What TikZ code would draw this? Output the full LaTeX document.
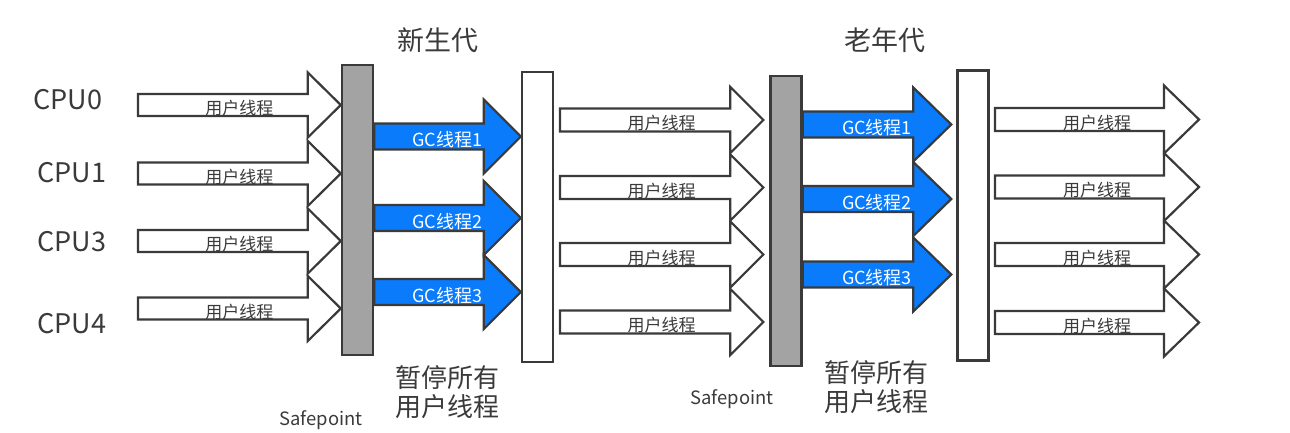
\documentclass[tikz,border=0pt]{standalone}
\usepackage{fontspec}
\setmainfont{Noto Sans CJK SC}
\usetikzlibrary{calc,positioning}

\definecolor{inkgray}{HTML}{3A3A3A}
\definecolor{bargray}{HTML}{A3A3A3}
\definecolor{gcblue}{HTML}{0A7BFB}

% block arrow: #1 path style, #2 label style, #3 start, #4 tip, #5 text
\newcommand{\blkarrow}[5]{%
  \draw[#1] ($(#3)+(0,-\shaftH)$) -| ($(#4)+(-\headL,-\headH)$) -- (#4)
    -- ($(#4)+(-\headL,\headH)$) |- ($(#3)+(0,\shaftH)$) -- cycle;
  \node[#2] (#3-txt) at ($(#3)!0.5!(#4)$) {#5};
}

\begin{document}
\begin{tikzpicture}[
    x=0.5pt, y=-0.5pt,
    every node/.style={text=inkgray},
    graybar/.style={draw=inkgray, fill=bargray, line width=1.2pt,
                    minimum width=15.5pt, minimum height=145pt, inner sep=0pt},
    whitebar/.style={graybar, fill=white},
    uarrow/.style={draw=inkgray, fill=white, line width=1.1pt},
    garrow/.style={draw=inkgray, fill=gcblue, line width=1.1pt},
    ulabel/.style={font=\fontsize{8.5}{10}\selectfont, yshift=-1.6pt, inner sep=0pt},
    glabel/.style={ulabel, text=white, font=\fontsize{9}{10}\selectfont},
    cpulbl/.style={font=\fontsize{13.5}{15}\selectfont},
    gentitle/.style={font=\fontsize{13.5}{15}\selectfont},
    pausetxt/.style={font=\fontsize{13}{14.5}\selectfont, align=center},
    safept/.style={font=\fontsize{9.2}{10}\selectfont},
]
\useasboundingbox (0,0) rectangle (1290,433);

% ── bars ─────────────────────────────────────────────────────
\node[graybar]  (gray1)  at (357.5,210) {};
\node[whitebar] (white1) at (537.5,217) {};
\node[graybar]  (gray2)  at (786,221)   {};
\node[whitebar] (white2) at (973,215.5) {};

% ── titles ───────────────────────────────────────────────────
\node[gentitle] (young) at (438,40) {新生代};
\node[gentitle] (old)   at (885,40) {老年代};

% ── CPU labels ───────────────────────────────────────────────
\node[cpulbl] (cpu0) at (68,100) {CPU0};
\node[cpulbl] (cpu1) at (72,173) {CPU1};
\node[cpulbl] (cpu3) at (72,242) {CPU3};
\node[cpulbl] (cpu4) at (72,324) {CPU4};

% ── user threads, before young GC ───────────────────────────
\def\shaftH{11}\def\headH{32.5}\def\headL{33}
\foreach \n/\y in {0/105,1/173.5,3/241,4/308.5}{
  \coordinate (ua\n) at (138,\y);
  \coordinate (ub\n) at (gray1.west |- ua\n);
  \blkarrow{uarrow}{ulabel}{ua\n}{ub\n}{用户线程}
}

% ── young GC threads ─────────────────────────────────────────
\def\shaftH{13}\def\headH{37}\def\headL{37}
\foreach \n/\y in {1/136.5,2/218,3/292}{
  \coordinate (ga\n) at (gray1.east |- 0,\y);
  \coordinate (gb\n) at (white1.west |- ga\n);
  \blkarrow{garrow}{glabel}{ga\n}{gb\n}{GC线程\n}
}

% ── user threads, between GCs ────────────────────────────────
\def\shaftH{11.5}\def\headH{33}\def\headL{33}
\foreach \n/\y in {1/120,2/187.5,3/254.5,4/322}{
  \coordinate (va\n) at (560,\y);
  \coordinate (vb\n) at ($(gray2.west |- va\n)+(-6,0)$);
  \blkarrow{uarrow}{ulabel}{va\n}{vb\n}{用户线程}
}

% ── old GC threads ───────────────────────────────────────────
\def\shaftH{13}\def\headH{37}\def\headL{38}
\foreach \n/\y in {1/124.5,2/199,3/274.5}{
  \coordinate (ha\n) at (gray2.east |- 0,\y);
  \coordinate (hb\n) at ($(white2.west |- ha\n)+(-5,0)$);
  \blkarrow{garrow}{glabel}{ha\n}{hb\n}{GC线程\n}
}

% ── user threads, after old GC ───────────────────────────────
\def\shaftH{11.5}\def\headH{34}\def\headL{35}
\foreach \n/\y in {1/119.5,2/187,3/254.5,4/322.5}{
  \coordinate (wa\n) at (995,\y);
  \coordinate (wb\n) at (1199,\y);
  \blkarrow{uarrow}{ulabel}{wa\n}{wb\n}{用户线程}
}

% ── pause notes ──────────────────────────────────────────────
\node[pausetxt] (pause1) at (447,392) {暂停所有\\用户线程};
\node[pausetxt] (pause2) at (876,387) {暂停所有\\用户线程};
\node[safept]   (sp1)    at (321,420) {Safepoint};
\node[safept]   (sp2)    at (732,399) {Safepoint};

\end{tikzpicture}
\end{document}
